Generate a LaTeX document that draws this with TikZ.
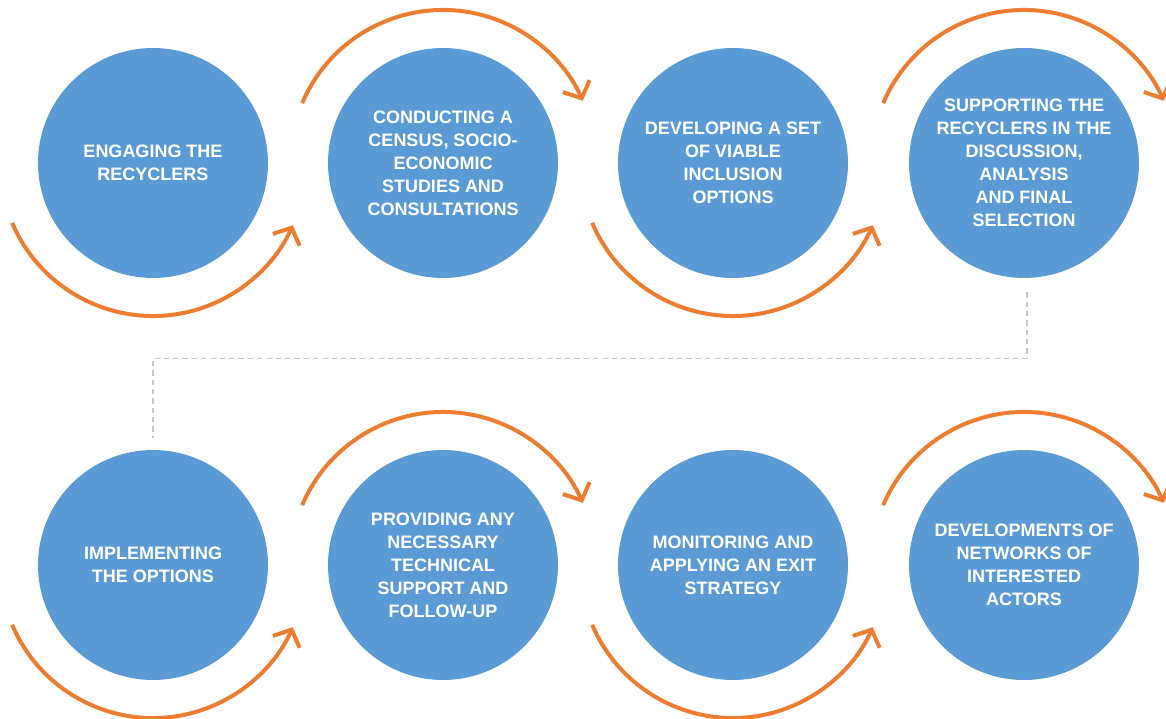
\documentclass[tikz,border=0pt]{standalone}
\usepackage{fontspec}
\setmainfont{Liberation Sans}
\usetikzlibrary{arrows.meta}
\definecolor{step_blue}{RGB}{91, 155, 213}
\definecolor{step_orange}{RGB}{237, 125, 49}
\definecolor{link_grey}{RGB}{200, 200, 200}
\tikzstyle{sn}=[circle,fill=step_blue,draw=none,inner sep=0pt,
  minimum size=172.5pt,text=white,align=center,
  font=\bfseries\fontsize{13.5}{17.25}\selectfont]
\tikzstyle{turn}=[draw=step_orange,line width=3pt,
  -{Straight Barb[length=10pt,width=22pt]}]
\tikzstyle{link}=[draw=link_grey,line width=1.1pt,dash pattern=on 4pt off 3pt]

\begin{document}
\begin{tikzpicture}[x=0.75pt,y=0.75pt]
            \useasboundingbox (0, 0) rectangle (1166, 718);
            \node [style=sn] (1) at (153, 555) {ENGAGING THE\\RECYCLERS};
            \node [style=sn] (2) at (443, 555) {CONDUCTING A\\CENSUS, SOCIO-\\ECONOMIC\\STUDIES AND\\CONSULTATIONS};
            \node [style=sn] (3) at (733, 555) {DEVELOPING A SET\\OF VIABLE\\INCLUSION\\OPTIONS};
            \node [style=sn] (4) at (1024, 555) {SUPPORTING THE\\RECYCLERS IN THE\\DISCUSSION,\\ANALYSIS\\AND FINAL\\SELECTION};
            \node [style=sn] (5) at (153, 153) {IMPLEMENTING\\THE OPTIONS};
            \node [style=sn] (6) at (443, 153) {PROVIDING ANY\\NECESSARY\\TECHNICAL\\SUPPORT AND\\FOLLOW-UP};
            \node [style=sn] (7) at (733, 153) {MONITORING AND\\APPLYING AN EXIT\\STRATEGY};
            \node [style=sn] (8) at (1024, 153) {DEVELOPMENTS OF\\NETWORKS OF\\INTERESTED\\ACTORS};
            \draw [style=turn] ([shift={(203:153)}]1.center) arc [start angle=203, end angle=336, radius=153];
            \draw [style=turn] ([shift={(157:153)}]2.center) arc [start angle=157, end angle=24, radius=153];
            \draw [style=turn] ([shift={(203:153)}]3.center) arc [start angle=203, end angle=336, radius=153];
            \draw [style=turn] ([shift={(157:153)}]4.center) arc [start angle=157, end angle=24, radius=153];
            \draw [style=turn] ([shift={(203:153)}]5.center) arc [start angle=203, end angle=336, radius=153];
            \draw [style=turn] ([shift={(157:153)}]6.center) arc [start angle=157, end angle=24, radius=153];
            \draw [style=turn] ([shift={(203:153)}]7.center) arc [start angle=203, end angle=336, radius=153];
            \draw [style=turn] ([shift={(157:153)}]8.center) arc [start angle=157, end angle=24, radius=153];
            \draw [style=link] ([shift={(3,-14)}]4.south) -- ++(0, -66) -| ([shift={(0,12)}]5.north);
    \end{tikzpicture}
\end{document}
